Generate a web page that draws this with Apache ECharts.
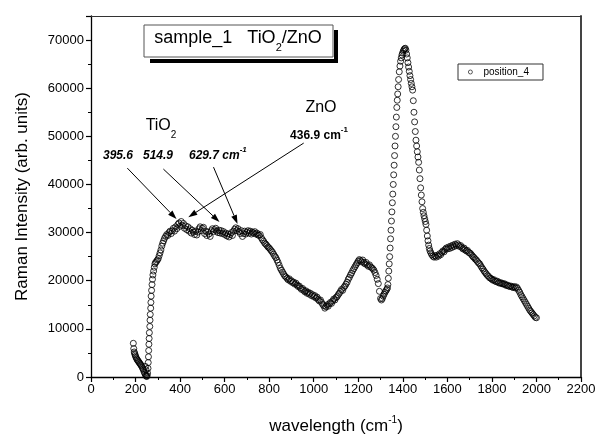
<!DOCTYPE html>
<html>
<head>
<meta charset="utf-8">
<script src="https://cdn.jsdelivr.net/npm/echarts@6/dist/echarts.min.js"></script>
<style>html,body{margin:0;padding:0;background:#fff}#c{width:597px;height:437px}</style>
</head>
<body>
<div id="c"></div>
<script>
// Raman shift (cm-1) and intensity for series "position_4"
const position4 = [
[190,7000],[192,5900],[194,5200],[196,4900],[198,4600],[200,4300],[203,4000],[206,3700],[209,3500],[212,3300],
[215,3100],[218,2900],[221,2700],[224,2500],[227,2300],[230,2000],[233,1700],[236,1400],[239,1000],[242,700],
[244,2200],[245,400],[247,1500],[248,200],[250,100],[252,300],[254,800],[256,1800],[257,3000],[258,4200],
[259,5500],[260,6800],[261,8000],[262,9200],[264,10500],[265,11800],[266,13000],[268,14300],[269,15500],[270,16800],
[272,18000],[274,19200],[276,20300],[278,21200],[281,22000],[284,22800],[287,23500],[290,23800],[294,24000],[298,24300],
[302,24600],[306,25200],[310,25800],[314,26400],[318,27200],[322,27800],[326,28300],[330,28800],[335,29200],[340,29600],
[345,29400],[350,30000],[355,30300],[360,29800],[365,30400],[370,30900],[375,30300],[380,31200],[385,30800],[390,31700],
[395,32000],[400,31300],[405,32300],[410,31500],[415,31900],[420,30900],[425,31400],[430,30600],[435,31200],[440,30300],
[445,30800],[450,29900],[455,30500],[460,30100],[465,29600],[470,30300],[475,29500],[480,30100],[485,30800],[490,31200],
[495,30400],[500,30900],[505,31100],[510,29800],[515,30300],[520,29400],[525,30100],[530,29700],[535,29200],[540,30400],
[545,30800],[550,30200],[555,30600],[560,30900],[565,30300],[570,30000],[575,30500],[580,29900],[585,30400],[590,29800],
[595,30200],[600,29600],[605,29900],[610,29300],[615,29700],[620,29100],[625,29600],[630,30000],[635,29400],[640,30300],
[645,30700],[650,31000],[655,30400],[660,30800],[665,30200],[670,29800],[675,30400],[680,29200],[685,29800],[690,30300],
[695,29700],[700,30100],[705,30400],[710,29900],[715,30300],[720,29700],[725,30100],[730,29900],[735,30200],[740,29700],
[745,29900],[750,29500],[755,29400],[760,29600],[765,28900],[770,28500],[775,28200],[780,27800],[785,27600],[790,27300],
[795,27000],[800,26800],[805,26500],[810,26200],[815,25900],[820,25500],[825,25100],[830,24800],[835,24300],[840,23800],
[845,23200],[850,22600],[855,22200],[860,21800],[865,21400],[870,21000],[875,20800],[880,20500],[885,20200],[890,20400],
[895,19900],[900,20000],[905,19600],[910,19700],[915,19300],[920,19500],[925,19100],[930,18800],[935,18900],[940,18500],
[945,18200],[950,18400],[955,18000],[960,17700],[965,17900],[970,17400],[975,17600],[980,17200],[985,17400],[990,16900],
[995,17100],[1000,16700],[1005,16900],[1010,16400],[1015,16600],[1020,16100],[1025,15800],[1030,16000],[1035,15500],[1040,15100],
[1045,14800],[1050,14300],[1055,14600],[1060,15000],[1065,14700],[1070,15200],[1075,15500],[1080,15300],[1085,15800],[1090,16200],
[1095,16000],[1100,16500],[1105,16700],[1110,17100],[1115,17400],[1120,17800],[1125,18200],[1130,18000],[1135,18600],[1140,18900],
[1145,19300],[1150,19700],[1155,20300],[1160,20700],[1165,21200],[1170,21600],[1175,22100],[1180,22500],[1185,22900],[1190,23300],
[1195,23700],[1200,24100],[1205,24400],[1210,24200],[1215,23900],[1220,24300],[1225,23800],[1230,23500],[1235,23800],[1240,23300],
[1245,23000],[1250,23300],[1255,22900],[1260,22700],[1265,22500],[1270,22200],[1275,21700],[1280,21100],[1285,20300],[1290,19400],
[1295,17800],[1300,16300],[1304,16000],[1308,16300],[1312,16800],[1316,17200],[1320,17600],[1324,17900],[1328,18200],[1331,18500],
[1333,19200],[1335,20500],[1337,22000],[1339,23500],[1341,25000],[1343,26800],[1345,28700],[1347,30500],[1349,32400],[1351,34300],
[1353,36200],[1355,38000],[1357,40000],[1359,42000],[1361,44000],[1363,46000],[1365,48000],[1367,50000],[1369,52000],[1371,54000],
[1373,56000],[1375,57500],[1377,58800],[1379,60300],[1381,61800],[1384,63400],[1387,64600],[1390,65600],[1393,66300],[1396,66900],
[1399,67300],[1402,67700],[1405,68000],[1408,68200],[1411,68300],[1414,67900],[1417,67100],[1420,66300],[1423,65300],[1426,64400],
[1429,63500],[1432,62600],[1435,61800],[1438,61000],[1441,60300],[1444,59600],[1447,57400],[1450,55000],[1453,53000],[1456,51000],
[1459,49200],[1462,48000],[1465,46800],[1468,45700],[1471,44600],[1474,43000],[1477,41200],[1480,39300],[1483,37800],[1486,36400],
[1489,35000],[1492,34200],[1495,33500],[1498,32900],[1501,32300],[1504,31700],[1507,30500],[1510,29300],[1513,28300],[1516,27400],
[1519,26700],[1522,26200],[1526,25800],[1530,25400],[1535,25100],[1540,24900],[1545,25200],[1550,24900],[1555,25300],[1560,25100],
[1565,25600],[1570,25400],[1575,25900],[1580,26200],[1585,26000],[1590,26500],[1595,26800],[1600,26600],[1605,27000],[1610,26700],
[1615,27200],[1620,26900],[1625,27400],[1630,27100],[1635,27600],[1640,27300],[1645,27700],[1650,27400],[1655,27100],[1660,27300],
[1665,26900],[1670,26600],[1675,26800],[1680,26400],[1685,26200],[1690,26300],[1695,25900],[1700,25800],[1705,25600],[1710,25300],
[1715,25000],[1720,24800],[1725,24500],[1730,24300],[1735,24000],[1740,23700],[1745,23500],[1750,23100],[1755,22700],[1760,22400],
[1765,22000],[1770,21700],[1775,21400],[1780,21100],[1785,20900],[1790,20600],[1795,20500],[1800,20300],[1805,20100],[1810,20200],
[1815,19900],[1820,19800],[1825,19900],[1830,19600],[1835,19500],[1840,19600],[1845,19400],[1850,19300],[1855,19400],[1860,19200],
[1865,19000],[1870,19100],[1875,18900],[1880,18800],[1885,18900],[1890,18700],[1895,18600],[1900,18800],[1905,18500],[1910,18700],
[1915,18400],[1920,18000],[1925,17600],[1930,17100],[1935,16700],[1940,16300],[1945,15900],[1950,15500],[1955,15100],[1960,14700],
[1965,14300],[1970,13900],[1975,13600],[1980,13300],[1985,13000],[1990,12700],[1995,12400],[2000,12300]
];
const seriesName = 'position_4';
const xRange = [0, 2200, 200];
const yRange = [0, 75000, 10000];
// annotation arrows [fromX, fromY, toX, toY] in data units
const arrows = [
  [163, 43400, 384, 32800],
  [325, 43200, 577, 32200],
  [550, 43600, 658, 31800],
  [955, 48600, 437, 33200]
];

const FONT = 'Arial, "Liberation Sans", Helvetica, sans-serif';
const chart = echarts.init(document.getElementById('c'), null, {renderer: 'canvas'});

const option = {
  animation: false,
  backgroundColor: '#fff',
  textStyle: {fontFamily: FONT, color: '#000'},
  grid: {left: 91, right: 16, top: 16, bottom: 60, containLabel: false, outerBoundsMode: 'none'},
  legend: {
    left: 458, top: 64,
    orient: 'horizontal',
    data: [{name: seriesName, icon: 'circle'}],
    itemWidth: 16, itemHeight: 4,
    itemStyle: {color: 'rgba(0,0,0,0)', borderColor: '#000', borderWidth: 0.8},
    padding: [3, 14, 3, 10],
    borderColor: '#333', borderWidth: 1,
    textStyle: {fontSize: 10, color: '#000', fontFamily: FONT}
  },
  xAxis: [{
    type: 'value', min: xRange[0], max: xRange[1], interval: xRange[2],
    position: 'bottom',
    axisLine: {lineStyle: {color: '#000', width: 1.3}},
    axisTick: {show: true, inside: false, length: 5, lineStyle: {color: '#000', width: 1.2}},
    minorTick: {show: true, splitNumber: 2, length: 3, lineStyle: {color: '#000', width: 1}},
    splitLine: {show: false},
    axisLabel: {fontSize: 13, color: '#000', margin: 6, fontFamily: FONT, formatter: v => String(v)},
    name: '{a|wavelength (cm}{s|-1}{a|)}',
    nameLocation: 'middle', nameGap: 38,
    nameTextStyle: {
      rich: {
        a: {fontSize: 17, fontFamily: FONT, color: '#000', lineHeight: 20, verticalAlign: 'bottom'},
        s: {fontSize: 10, fontFamily: FONT, color: '#000', lineHeight: 20, verticalAlign: 'top'}
      }
    }
  }, {
    type: 'value', min: xRange[0], max: xRange[1], position: 'top',
    axisLine: {show: true, onZero: false, lineStyle: {color: '#333', width: 1}},
    axisTick: {show: false}, axisLabel: {show: false}, splitLine: {show: false}
  }],
  yAxis: [{
    type: 'value', min: yRange[0], max: yRange[1], interval: yRange[2],
    position: 'left',
    axisLine: {show: true, lineStyle: {color: '#000', width: 1.3}},
    axisTick: {show: true, inside: false, length: 5, lineStyle: {color: '#000', width: 1.2}},
    minorTick: {show: true, splitNumber: 2, length: 3, lineStyle: {color: '#000', width: 1}},
    splitLine: {show: false},
    axisLabel: {fontSize: 13, color: '#000', margin: 7, showMaxLabel: false, fontFamily: FONT, formatter: v => String(v)},
    name: 'Raman Intensity (arb. units)',
    nameLocation: 'middle', nameGap: 60,
    nameTextStyle: {fontSize: 17, color: '#000', fontFamily: FONT}
  }, {
    type: 'value', min: yRange[0], max: yRange[1], position: 'right',
    axisLine: {show: true, onZero: false, lineStyle: {color: '#444', width: 2}},
    axisTick: {show: false}, axisLabel: {show: false}, splitLine: {show: false}
  }],
  series: [{
    name: seriesName,
    type: 'scatter',
    xAxisIndex: 0, yAxisIndex: 0,
    symbol: 'circle',
    symbolSize: 6,
    itemStyle: {color: 'rgba(0,0,0,0)', borderColor: '#000', borderWidth: 1},
    data: position4
  }]
};
chart.setOption(option);

function arrowGraphics() {
  const els = [];
  arrows.forEach(a => {
    const p0 = chart.convertToPixel({gridIndex: 0}, [a[0], a[1]]);
    const p1 = chart.convertToPixel({gridIndex: 0}, [a[2], a[3]]);
    const dx = p1[0] - p0[0], dy = p1[1] - p0[1];
    const L = Math.sqrt(dx * dx + dy * dy);
    const ux = dx / L, uy = dy / L;
    const hl = 9, hw = 3;
    const bx = p1[0] - ux * hl, by = p1[1] - uy * hl;
    els.push({type: 'line', z: 100, shape: {x1: p0[0], y1: p0[1], x2: bx, y2: by},
      style: {stroke: '#000', lineWidth: 1}});
    els.push({type: 'polygon', z: 100, shape: {points: [[p1[0], p1[1]], [bx - uy * hw, by + ux * hw], [bx + uy * hw, by - ux * hw]]},
      style: {fill: '#000'}});
  });
  return els;
}

const supRich = {
  b: {fontSize: 12, fontWeight: 'bold', fontFamily: FONT, fill: '#000', lineHeight: 16, verticalAlign: 'bottom'},
  bi: {fontSize: 12, fontWeight: 'bold', fontStyle: 'italic', fontFamily: FONT, fill: '#000', lineHeight: 16, verticalAlign: 'bottom'},
  sb: {fontSize: 8, fontWeight: 'bold', fontFamily: FONT, fill: '#000', lineHeight: 16, verticalAlign: 'top'},
  sbi: {fontSize: 8, fontWeight: 'bold', fontStyle: 'italic', fontFamily: FONT, fill: '#000', lineHeight: 16, verticalAlign: 'top'}
};

const graphics = [
  // title box with shadow
  {type: 'rect', z: 90, shape: {x: 150, y: 59, width: 188, height: 4}, style: {fill: '#000'}},
  {type: 'rect', z: 90, shape: {x: 334, y: 30, width: 4, height: 33}, style: {fill: '#000'}},
  {type: 'rect', z: 91, shape: {x: 144, y: 25, width: 189, height: 32}, style: {fill: '#fff', stroke: '#555', lineWidth: 1}},
  {type: 'text', z: 92, x: 238, y: 41, style: {
    text: '{a|sample_1   TiO}{s|2}{a|/ZnO}', align: 'center', verticalAlign: 'middle',
    rich: {
      a: {fontSize: 18, fontFamily: FONT, fill: '#000', lineHeight: 24, verticalAlign: 'top'},
      s: {fontSize: 11, fontFamily: FONT, fill: '#000', lineHeight: 24, verticalAlign: 'bottom'}
    }}},
  // ZnO label
  {type: 'text', z: 92, x: 321, y: 108, style: {text: 'ZnO', align: 'center', verticalAlign: 'middle',
    fontSize: 16, fontFamily: FONT, fill: '#000'}},
  {type: 'text', z: 92, x: 319, y: 134, style: {text: '{b|436.9 cm}{sb|-1}', align: 'center', verticalAlign: 'middle', rich: supRich}},
  // TiO2 label
  {type: 'text', z: 92, x: 161, y: 129, style: {
    text: '{a|TiO}{s|2}', align: 'center', verticalAlign: 'middle',
    rich: {
      a: {fontSize: 16, fontFamily: FONT, fill: '#000', lineHeight: 22, verticalAlign: 'top'},
      s: {fontSize: 10, fontFamily: FONT, fill: '#000', lineHeight: 22, verticalAlign: 'bottom'}
    }}},
  {type: 'text', z: 92, x: 103, y: 154, style: {text: '{bi|395.6}', align: 'left', verticalAlign: 'middle', rich: supRich}},
  {type: 'text', z: 92, x: 143, y: 154, style: {text: '{bi|514.9}', align: 'left', verticalAlign: 'middle', rich: supRich}},
  {type: 'text', z: 92, x: 189, y: 154, style: {text: '{bi|629.7 cm}{sbi|-1}', align: 'left', verticalAlign: 'middle', rich: supRich}}
];

chart.setOption({graphic: graphics.concat(arrowGraphics())});
</script>
</body>
</html>
